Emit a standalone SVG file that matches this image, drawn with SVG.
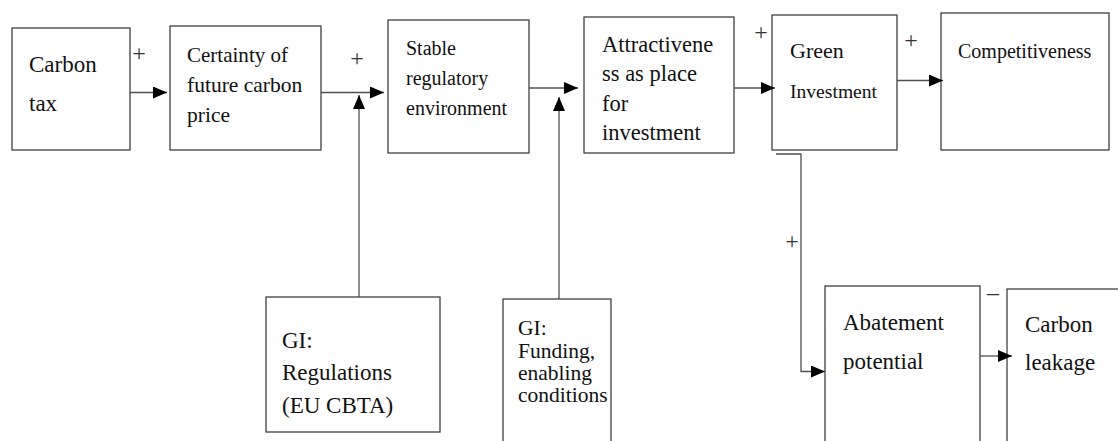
<svg xmlns="http://www.w3.org/2000/svg" width="1118" height="441" viewBox="0 0 1118 441">
<style>
.box{fill:#fff;stroke:#404040;stroke-width:1.3}
.t{font-family:"Liberation Serif","Times New Roman",serif;fill:#111}
.c{fill:none;stroke:#505050;stroke-width:1.3}
.s{font-family:"Liberation Serif","Times New Roman",serif;font-size:24px;fill:#333;text-anchor:middle}
</style>
<defs>
<marker id="ah" markerUnits="userSpaceOnUse" markerWidth="14" markerHeight="12" refX="14" refY="6" orient="auto">
<path d="M0,0 L14,6 L0,12 z" fill="#000"/>
</marker>
</defs>
<rect width="1118" height="441" fill="#fff"/>
<g id="carbon-tax">
<rect class="box" x="12" y="28" width="118" height="122"/>
<text class="t" font-size="23" x="29" y="72">Carbon</text>
<text class="t" font-size="23" x="29" y="111">tax</text>
</g>
<g id="certainty">
<rect class="box" x="170" y="26" width="151" height="124"/>
<text class="t" font-size="21.5" x="187" y="62" textLength="101" lengthAdjust="spacingAndGlyphs">Certainty of</text>
<text class="t" font-size="21.5" x="187" y="92">future carbon</text>
<text class="t" font-size="21.5" x="187" y="122">price</text>
</g>
<g id="stable">
<rect class="box" x="388" y="20" width="141" height="133"/>
<text class="t" font-size="20" x="406" y="55">Stable</text>
<text class="t" font-size="20" x="406" y="85">regulatory</text>
<text class="t" font-size="20" x="406" y="115">environment</text>
</g>
<g id="attractiveness">
<rect class="box" x="584" y="17" width="150" height="136"/>
<text class="t" font-size="22.5" x="602" y="52">Attractivene</text>
<text class="t" font-size="22.5" x="602" y="81">ss as place</text>
<text class="t" font-size="22.5" x="602" y="111">for</text>
<text class="t" font-size="22.5" x="602" y="140">investment</text>
</g>
<g id="green-investment">
<rect class="box" x="772" y="15" width="125" height="135"/>
<text class="t" font-size="22" x="790" y="58">Green</text>
<text class="t" font-size="19.6" x="790" y="98">Investment</text>
</g>
<g id="competitiveness">
<rect class="box" x="941" y="13" width="168" height="137"/>
<text class="t" font-size="20" x="958" y="58">Competitiveness</text>
</g>
<g id="gi-regulations">
<rect class="box" x="266" y="297" width="174" height="135"/>
<text class="t" font-size="23" x="282" y="348">GI:</text>
<text class="t" font-size="23" x="282" y="380">Regulations</text>
<text class="t" font-size="23" x="282" y="413">(EU CBTA)</text>
</g>
<g id="gi-funding">
<rect class="box" x="503" y="299" width="108" height="150"/>
<text class="t" font-size="21.5" x="518" y="335">GI:</text>
<text class="t" font-size="21.5" x="518" y="358">Funding,</text>
<text class="t" font-size="21.5" x="518" y="380">enabling</text>
<text class="t" font-size="21.5" x="518" y="402">conditions</text>
</g>
<g id="abatement">
<rect class="box" x="825" y="286" width="155" height="170"/>
<text class="t" font-size="23" x="843" y="330">Abatement</text>
<text class="t" font-size="23" x="843" y="369">potential</text>
</g>
<g id="carbon-leakage">
<rect class="box" x="1007" y="289" width="115" height="170"/>
<text class="t" font-size="23" x="1025" y="332">Carbon</text>
<text class="t" font-size="23" x="1025" y="370">leakage</text>
</g>
<g id="connectors">
<line class="c" x1="130" y1="92.5" x2="167" y2="92.5" marker-end="url(#ah)"/>
<line class="c" x1="321" y1="92.5" x2="384" y2="92.5" marker-end="url(#ah)"/>
<line class="c" x1="359" y1="297" x2="359" y2="95" stroke="#888" marker-end="url(#ah)"/>
<line class="c" x1="529" y1="88" x2="578" y2="88" marker-end="url(#ah)"/>
<line class="c" x1="559" y1="299" x2="559" y2="97" stroke="#222" marker-end="url(#ah)"/>
<line class="c" x1="734" y1="88" x2="775" y2="88" marker-end="url(#ah)"/>
<line class="c" x1="897" y1="80.5" x2="943" y2="80.5" marker-end="url(#ah)"/>
<path class="c" d="M776,154 H801 V371.5 H825" marker-end="url(#ah)"/>
<line class="c" x1="980" y1="356" x2="1012" y2="356" marker-end="url(#ah)"/>
<text class="s" x="139" y="61">+</text>
<text class="s" x="357" y="66">+</text>
<text class="s" x="761" y="40">+</text>
<text class="s" x="911" y="48">+</text>
<text class="s" x="792" y="249">+</text>
<text class="s" x="993" y="300">–</text>
</g>
</svg>
